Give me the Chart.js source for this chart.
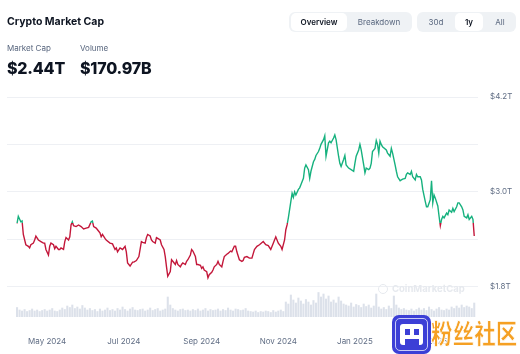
<!DOCTYPE html>
<html>
<head>
<meta charset="utf-8">
<script src="https://cdn.jsdelivr.net/npm/chart.js@4.4.1/dist/chart.umd.min.js"></script>
<style>
    body { margin: 0; background: #fff; font-family: Inter, "Noto Sans", sans-serif; }
    #wrap { position: relative; width: 520px; height: 354px; overflow: hidden; }
    #chart1 { position: absolute; left: 0; top: 0; }
    .txt { position: absolute; white-space: nowrap; color: #0d1421; }
    .title { left: 7px; top: 16px; font-size: 10.5px; font-weight: 700; line-height: 12px; }
    .lbl { top: 43px; font-size: 8px; color: #58667e; line-height: 10px; }
    .big { top: 58px; font-size: 16px; font-weight: 800; line-height: 20px; letter-spacing: -0.2px; }
    .seg { position: absolute; top: 12px; height: 20px; background: #eff2f5; border-radius: 6px; }
    .pill { position: absolute; top: 1px; height: 18px; background: #fff; border-radius: 5px; }
    .btn { position: absolute; top: 0; line-height: 20px; font-size: 8px; color: #58667e; transform: translateX(-50%); white-space: nowrap; }
    .btn.on { color: #0d1421; font-weight: 600; }
    .cmc { position: absolute; left: 392px; top: 283px; font-size: 9.5px; font-weight: 700; color: #e6e9ee; white-space: nowrap; }
    .cmcdot { position: absolute; left: 378px; top: 284px; width: 8px; height: 8px; border: 1.5px solid #e6e9ee; border-radius: 50%; }
    .wm-box { position: absolute; left: 392px; top: 315px; width: 39px; height: 39px; background: #3c3fd6; border-radius: 7px; }
    .wm-in { position: absolute; left: 3px; top: 3px; width: 31px; height: 31px; border: 1px solid #c9cbf6; border-radius: 5px; }
    .wm-w { position: absolute; background: #fff; }
    .wm-text { position: absolute; left: 431px; top: 313px; white-space: nowrap; font-family: "Noto Sans CJK SC"; font-size: 27px; font-weight: 900; color: #f5a023; -webkit-text-stroke: 1px #fff; transform: scaleX(0.8); transform-origin: left top; line-height: 40px; }
</style>
</head>
<body>
<div id="wrap">
    <canvas id="chart1" width="520" height="354"></canvas>

    <div class="txt title">Crypto Market Cap</div>
    <div class="txt lbl" style="left:7px">Market Cap</div>
    <div class="txt lbl" style="left:80px">Volume</div>
    <div class="txt big" style="left:7px">$2.44T</div>
    <div class="txt big" style="left:80px">$170.97B</div>

    <div class="seg" style="left:289px; width:123px;">
        <div class="pill" style="left:2px; width:56px;"></div>
        <div class="btn on" style="left:30px">Overview</div>
        <div class="btn" style="left:90px">Breakdown</div>
    </div>
    <div class="seg" style="left:417px; width:99px;">
        <div class="pill" style="left:38px; width:28px;"></div>
        <div class="btn" style="left:19px">30d</div>
        <div class="btn on" style="left:52px">1y</div>
        <div class="btn" style="left:83px">All</div>
    </div>

    <div class="cmcdot"></div>
    <div class="cmc">CoinMarketCap</div>

    <div class="wm-box">
        <div class="wm-in"></div>
        <div class="wm-w" style="left:8px; top:9px; width:23px; height:21px; border-radius:3px;"></div>
        <div class="wm-w" style="left:13px; top:14px; width:5px; height:6px; background:#3c3fd6;"></div>
        <div class="wm-w" style="left:22px; top:14px; width:5px; height:6px; background:#3c3fd6;"></div>
        <div class="wm-w" style="left:13px; top:24px; width:14px; height:6px; background:#3c3fd6;"></div>
    </div>
    <div class="wm-text">粉丝社区</div>
</div>

<script>
// day 0 = 7 Apr 2024, one year of total market cap (T$)
const days = [0, 1, 3, 4, 5, 7, 9, 10, 11, 13,
    14, 15, 17, 19, 21, 22, 23, 25, 26, 27,
    29, 30, 31, 33, 34, 35, 37, 38, 39, 41,
    42, 43, 44, 45, 47, 49, 51, 53, 55, 57,
    59, 60, 61, 63, 65, 66, 67, 68, 70, 71,
    74, 76, 78, 79, 80, 82, 84, 86, 87, 88,
    90, 92, 93, 95, 97, 99, 100, 102, 103, 104,
    106, 107, 108, 110, 111, 112, 114, 115, 117, 118,
    119, 120, 122, 123, 124, 126, 127, 128, 130, 131,
    132, 134, 135, 136, 138, 139, 140, 142, 143, 144,
    146, 147, 148, 149, 151, 152, 153, 155, 156, 157,
    159, 160, 161, 163, 164, 165, 167, 168, 170, 171,
    173, 174, 175, 177, 179, 180, 181, 183, 185, 187,
    189, 191, 193, 196, 198, 200, 202, 204, 206, 208,
    210, 211, 213, 214, 215, 216, 218, 219, 220, 221,
    222, 224, 225, 226, 228, 229, 230, 232, 233, 234,
    236, 237, 238, 240, 241, 242, 244, 245, 246, 248,
    249, 250, 252, 253, 254, 256, 257, 258, 260, 261,
    262, 264, 266, 268, 269, 270, 272, 273, 274, 276,
    277, 278, 280, 281, 282, 283, 285, 286, 287, 288,
    289, 290, 291, 294, 295, 297, 298, 299, 301, 302,
    303, 305, 306, 307, 309, 310, 311, 313, 314, 315,
    317, 318, 319, 321, 322, 323, 325, 326, 327, 329,
    330, 331, 332, 333, 335, 336, 337, 338, 339, 340,
    342, 343, 344, 346, 347, 348, 350, 351, 352, 354,
    355, 356, 358, 359, 360, 362, 363, 364];

let caps = [2.60, 2.69, 2.62, 2.63, 2.46, 2.33, 2.31, 2.29, 2.33, 2.35,
    2.39, 2.44, 2.39, 2.37, 2.35, 2.35, 2.27, 2.20, 2.31, 2.35,
    2.33, 2.28, 2.31, 2.27, 2.27, 2.29, 2.27, 2.37, 2.42, 2.39,
    2.43, 2.58, 2.62, 2.57, 2.56, 2.58, 2.56, 2.53, 2.54, 2.55,
    2.62, 2.63, 2.56, 2.54, 2.50, 2.48, 2.43, 2.46, 2.41, 2.39,
    2.35, 2.34, 2.27, 2.29, 2.24, 2.29, 2.27, 2.31, 2.24, 2.10,
    2.06, 2.11, 2.11, 2.13, 2.18, 2.37, 2.36, 2.35, 2.42, 2.46,
    2.44, 2.39, 2.37, 2.35, 2.42, 2.41, 2.39, 2.33, 2.27, 2.18,
    2.05, 1.93, 1.99, 2.14, 2.12, 2.08, 2.13, 2.08, 2.05, 2.08,
    2.10, 2.08, 2.12, 2.14, 2.20, 2.27, 2.25, 2.18, 2.08, 2.08,
    2.07, 2.03, 2.05, 2.01, 1.99, 1.91, 1.95, 1.98, 2.01, 2.05,
    2.08, 2.12, 2.08, 2.05, 2.12, 2.18, 2.21, 2.22, 2.25, 2.24,
    2.31, 2.31, 2.24, 2.14, 2.12, 2.13, 2.17, 2.18, 2.16, 2.16,
    2.27, 2.31, 2.33, 2.37, 2.33, 2.32, 2.27, 2.35, 2.43, 2.35,
    2.31, 2.27, 2.39, 2.52, 2.58, 2.67, 2.88, 2.98, 2.93, 3.00,
    2.96, 3.03, 3.05, 3.09, 3.17, 3.30, 3.34, 3.28, 3.17, 3.26,
    3.38, 3.41, 3.46, 3.51, 3.55, 3.60, 3.66, 3.71, 3.45, 3.62,
    3.64, 3.62, 3.68, 3.72, 3.66, 3.45, 3.36, 3.32, 3.41, 3.46,
    3.34, 3.30, 3.28, 3.26, 3.36, 3.45, 3.53, 3.60, 3.53, 3.34,
    3.24, 3.30, 3.28, 3.30, 3.36, 3.51, 3.55, 3.65, 3.60, 3.49,
    3.64, 3.60, 3.57, 3.53, 3.49, 3.45, 3.55, 3.49, 3.34, 3.26,
    3.19, 3.14, 3.15, 3.16, 3.17, 3.22, 3.24, 3.22, 3.26, 3.19,
    3.15, 3.22, 3.19, 3.19, 3.15, 3.03, 2.88, 2.81, 2.81, 2.90,
    3.14, 2.86, 2.96, 2.92, 2.82, 2.69, 2.57, 2.65, 2.69, 2.67,
    2.73, 2.71, 2.77, 2.74, 2.79, 2.75, 2.81, 2.86, 2.86, 2.81,
    2.77, 2.69, 2.67, 2.71, 2.65, 2.69, 2.65, 2.44];

// 24h volume (B$), one bar every 2 days
let volume = [95, 70, 60, 75, 55, 65, 80, 60, 70, 55,
    65, 75, 60, 70, 85, 60, 55, 70, 90, 75,
    110, 95, 120, 85, 100, 80, 115, 90, 70, 85,
    65, 75, 55, 80, 60, 70, 90, 65, 75, 60,
    85, 70, 100, 75, 60, 80, 95, 70, 65, 75,
    80, 60, 70, 90, 65, 75, 85, 60, 70, 80,
    200, 120, 85, 70, 60, 75, 80, 65, 70, 60,
    75, 65, 80, 60, 70, 85, 60, 75, 65, 70,
    80, 60, 75, 65, 90, 70, 60, 80, 75, 65,
    70, 85, 60, 55, 50, 60, 45, 55, 50, 60,
    55, 45, 65, 50, 60, 70, 55, 150, 130, 220,
    170, 140, 190, 160, 130, 175, 150, 120, 165, 140,
    245, 200, 230, 180, 210, 150, 170, 140, 200, 160,
    130, 120, 110, 140, 100, 125, 115, 95, 130, 105,
    120, 90, 110, 230, 100, 80, 95, 75, 110, 85,
    210, 120, 90, 75, 85, 70, 65, 80, 60, 75,
    90, 70, 85, 65, 100, 75, 60, 80, 95, 70,
    65, 80, 70, 100, 85, 110, 90, 120, 95, 110,
    100, 85, 140];

const monthDays = [24, 85, 147, 208, 269, 328];
const monthLabels = ['May 2024', 'Jul 2024', 'Sep 2024', 'Nov 2024', 'Jan 2025', 'Mar 2025'];
const capTicks = [1.8, 2.4, 3.0, 3.6, 4.2];
const capLabels = ['$1.8T', '', '$3.0T', '', '$4.2T'];

const upColor = '#16b17e';
const downColor = '#c3173a';
const baseline = caps[0];

// green above the opening value, red below
function lineColor(context) {
    const chart = context.chart;
    const area = chart.chartArea;
    if (!area) return upColor;
    const yb = chart.scales.y.getPixelForValue(baseline);
    let stop = (yb - area.top) / (area.bottom - area.top);
    stop = Math.min(Math.max(stop, 0), 1);
    const g = chart.ctx.createLinearGradient(0, area.top, 0, area.bottom);
    g.addColorStop(0, upColor);
    g.addColorStop(stop, upColor);
    g.addColorStop(stop, downColor);
    g.addColorStop(1, downColor);
    return g;
}

const chart1 = document.getElementById('chart1').getContext('2d');

new Chart(chart1, {
    data: {
        datasets: [
            {
                type: 'line',
                label: 'Market Cap',
                data: days.map((d, i) => ({ x: d, y: caps[i] })),
                borderColor: lineColor,
                borderWidth: 1.4,
                pointRadius: 0,
                tension: 0,
                yAxisID: 'y',
                order: 0
            },
            {
                type: 'bar',
                label: 'Volume',
                data: volume.map((v, i) => ({ x: i * 2, y: v })),
                backgroundColor: '#dce1ea',
                barThickness: 1.4,
                yAxisID: 'yv',
                order: 1
            }
        ]
    },
    options: {
        responsive: false,
        animation: false,
        layout: {
            padding: { left: 7, top: 97, right: 0, bottom: 0 }
        },
        scales: {
            x: {
                type: 'linear',
                offset: false,
                min: -8,
                max: 367,
                grid: { display: false, offset: false },
                border: { display: false },
                afterBuildTicks: axis => {
                    axis.ticks = monthDays.map(v => ({ value: v }));
                },
                afterFit: axis => { axis.height = 37; },
                ticks: {
                    autoSkip: false,
                    maxRotation: 0,
                    padding: 12,
                    color: '#616e85',
                    font: { family: 'Inter', size: 8 },
                    callback: (value) => monthLabels[monthDays.indexOf(value)]
                }
            },
            y: {
                position: 'right',
                min: 1.415,
                max: 4.2,
                grid: { color: '#eef0f4', drawTicks: false },
                border: { display: false },
                afterBuildTicks: axis => {
                    axis.ticks = capTicks.map(v => ({ value: v }));
                },
                afterFit: axis => { axis.width = 42; },
                ticks: {
                    padding: 12,
                    color: '#616e85',
                    font: { family: 'Inter', size: 8 },
                    callback: (value, index) => capLabels[index]
                }
            },
            yv: {
                display: false,
                min: 0,
                max: 2200
            }
        },
        plugins: {
            legend: { display: false },
            tooltip: { enabled: false }
        }
    }
});
</script>
</body>
</html>
